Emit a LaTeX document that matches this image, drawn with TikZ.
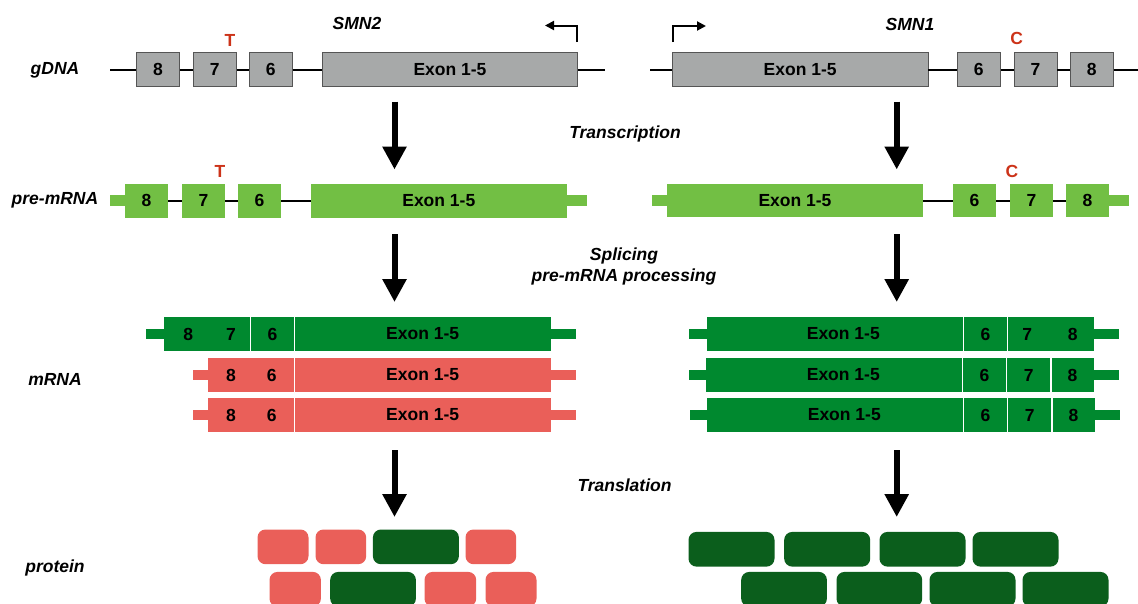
\documentclass[tikz,border=0pt]{standalone}
\usepackage{fontspec}
\setmainfont{Liberation Sans}
\usetikzlibrary{arrows.meta}
\definecolor{gfill}{HTML}{A7A9A9}
\definecolor{gbord}{HTML}{555555}
\definecolor{lgreen}{HTML}{72BF44}
\definecolor{dkg}{HTML}{00892F}
\definecolor{rna}{HTML}{EA5F59}
\definecolor{protg}{HTML}{0B5E1C}
\definecolor{snpred}{HTML}{CC3319}
\begin{document}
\begin{tikzpicture}[x=1pt,y=-1pt,
  font=\fontsize{17.5}{21}\selectfont\bfseries,
  gbox/.style={draw=gbord, line width=0.8pt, fill=gfill, minimum height=34pt, inner sep=0pt},
  pbox/.style={fill=lgreen, minimum height=33.7pt, inner sep=0pt},
  seg/.style={fill=#1, minimum height=34pt, inner sep=0pt, anchor=west},
  intron/.style={line width=2pt, black},
  ptail/.style={line width=11pt, lgreen},
  mtail/.style={line width=10.7pt, #1},
  divider/.style={white, line width=1.3pt},
  bigarrow/.style={line width=6pt, -{Triangle[length=23pt,width=23pt]}},
  prom/.style={line width=2pt, -{Triangle[length=9pt,width=9pt]}},
  stage/.style={font=\fontsize{17.5}{21}\selectfont\bfseries\itshape},
  snp/.style={text=snpred, inner sep=0pt},
  txt/.style={inner sep=0pt},
  prot/.style={fill=#1, rounded corners=8pt, minimum height=34.7pt, inner sep=0pt, anchor=north west}]
\useasboundingbox (0,0) rectangle (1138,603);
\clip (0,0) rectangle (1138,603);

% ---------- stage labels ----------
\node[stage] (lgdna) at (55,70) {gDNA};
\node[stage] (lpre) at (55,200) {pre-mRNA};
\node[stage] (lmrna) at (55,379) {mRNA};
\node[stage] (lprot) at (55,568) {protein};
\node[stage] (lsmn2) at (357,23) {SMN2};
\node[stage] (lsmn1) at (910,24) {SMN1};
\node[stage] (ltrans) at (625,134) {Transcription};
\node[stage, align=center] (lspl) at (624,266.5) {Splicing\\pre-mRNA processing};
\node[stage] (ltransl) at (624.5,485) {Translation};

% ---------- gDNA SMN2 ----------
\coordinate (gLs) at (110,69.5);
\coordinate (gLe) at (605,69.5);
\node[gbox, minimum width=43pt] (L8) at (158,69.5) {8};
\node[gbox, minimum width=43pt] (L7) at (214.7,69.5) {7};
\node[gbox, minimum width=43pt] (L6) at (270.8,69.5) {6};
\node[gbox, minimum width=255.4pt] (LE) at (450,69.5) {Exon 1-5};
\draw[intron] (gLs) -- (L8.west) (L8.east) -- (L7.west) (L7.east) -- (L6.west) (L6.east) -- (LE.west) (LE.east) -- (gLe);
\node[snp] (tg) at (230,40) {T};
\coordinate (pl1) at (577,42);
\coordinate (pl2) at (545,25.5);
\draw[prom] (pl1) |- (pl2);

% ---------- gDNA SMN1 ----------
\coordinate (gRs) at (650,69.5);
\coordinate (gRe) at (1140,69.5);
\node[gbox, minimum width=255.7pt] (RE) at (800.2,69.5) {Exon 1-5};
\node[gbox, minimum width=43pt] (R6) at (978.8,69.5) {6};
\node[gbox, minimum width=43pt] (R7) at (1035.5,69.5) {7};
\node[gbox, minimum width=43pt] (R8) at (1091.8,69.5) {8};
\draw[intron] (gRs) -- (RE.west) (RE.east) -- (R6.west) (R6.east) -- (R7.west) (R7.east) -- (R8.west) (R8.east) -- (gRe);
\node[snp] (cg) at (1016.7,38.5) {C};
\coordinate (pr1) at (673.3,42);
\coordinate (pr2) at (706,26);
\draw[prom] (pr1) |- (pr2);

% ---------- arrows ----------
\coordinate (a1s) at (394.5,101.5); \coordinate (a1e) at (394.5,169.5);
\coordinate (a2s) at (896.7,101.5); \coordinate (a2e) at (896.7,169.5);
\coordinate (a3s) at (394.5,234); \coordinate (a3e) at (394.5,302);
\coordinate (a4s) at (896.7,234); \coordinate (a4e) at (896.7,302);
\coordinate (a5s) at (394.5,450); \coordinate (a5e) at (394.5,517);
\coordinate (a6s) at (896.7,450); \coordinate (a6e) at (896.7,517);
\foreach \a/\b in {a1s/a1e,a2s/a2e,a3s/a3e,a4s/a4e,a5s/a5e,a6s/a6e}
  \draw[bigarrow] (\a) -- (\b);

% ---------- pre-mRNA SMN2 ----------
\node[pbox, minimum width=43pt] (P8) at (146.5,200.8) {8};
\node[pbox, minimum width=43pt] (P7) at (203.5,200.8) {7};
\node[pbox, minimum width=43pt] (P6) at (259.5,200.8) {6};
\node[pbox, minimum width=255.7pt] (PE) at (438.8,200.8) {Exon 1-5};
\draw[intron] (P8.east) -- (P7.west) (P7.east) -- (P6.west) (P6.east) -- (PE.west);
\draw[ptail] (P8.west) -- ++(-15,0);
\draw[ptail] (PE.east) -- ++(20,0);
\node[snp] (tp) at (220,171) {T};

% ---------- pre-mRNA SMN1 ----------
\node[pbox, minimum width=256pt] (QE) at (795,200.5) {Exon 1-5};
\node[pbox, minimum width=43pt] (Q6) at (974.5,200.5) {6};
\node[pbox, minimum width=43pt] (Q7) at (1031.5,200.5) {7};
\node[pbox, minimum width=43pt] (Q8) at (1087.5,200.5) {8};
\draw[intron] (QE.east) -- (Q6.west) (Q6.east) -- (Q7.west) (Q7.east) -- (Q8.west);
\draw[ptail] (QE.west) -- ++(-15,0);
\draw[ptail] (Q8.east) -- ++(20,0);
\node[snp] (cp) at (1012,171) {C};

% ---------- mRNA SMN2 ----------
\node[seg=dkg, minimum width=86.3pt] (m1a) at (164,334) {};
\node[seg=dkg, minimum width=44pt] (m1b) at (250.3,334) {6};
\node[seg=dkg, minimum width=256.4pt] (m1c) at (294.3,334) {Exon 1-5};
\draw[mtail=dkg] (m1a.west) -- ++(-18,0);
\draw[mtail=dkg] (m1c.east) -- ++(25.3,0);
\draw[divider] (m1a.north east) -- (m1a.south east);
\draw[divider] (m1b.north east) -- (m1b.south east);
\node[txt] (m1t8) at (188.3,334) {8};
\node[txt] (m1t7) at (231,334) {7};

\foreach \r/\yy in {m2/375, m3/415}{
  \node[seg=rna, minimum width=86.3pt] (\r a) at (208,\yy) {};
  \node[seg=rna, minimum width=256.4pt] (\r b) at (294.3,\yy) {Exon 1-5};
  \draw[mtail=rna] (\r a.west) -- ++(-15,0);
  \draw[mtail=rna] (\r b.east) -- ++(25.3,0);
  \draw[divider] (\r a.north east) -- (\r a.south east);
  \node[txt] (\r t8) at (231,\yy) {8};
  \node[txt] (\r t6) at (271.7,\yy) {6};
}

% ---------- mRNA SMN1 ----------
\node[seg=dkg, minimum width=256.3pt] (r1a) at (707,334) {};
\node[seg=dkg, minimum width=44pt] (r1b) at (963.3,334) {6};
\node[seg=dkg, minimum width=86.4pt] (r1c) at (1007.3,334) {};
\draw[mtail=dkg] (r1a.west) -- ++(-18,0);
\draw[mtail=dkg] (r1c.east) -- ++(25.3,0);
\draw[divider] (r1a.north east) -- (r1a.south east);
\draw[divider] (r1b.north east) -- (r1b.south east);
\node[txt] (r1te) at (843.3,334) {Exon 1-5};
\node[txt] (r1t7) at (1027.3,334) {7};
\node[txt] (r1t8) at (1072.7,334) {8};

\foreach \r/\yy/\xo in {r2/375/0, r3/415/1}{
  \node[seg=dkg, minimum width=256.3pt] (\r a) at (706+\xo,\yy) {};
  \node[seg=dkg, minimum width=44pt] (\r b) at (962.3+\xo,\yy) {6};
  \node[seg=dkg, minimum width=44.4pt] (\r c) at (1006.3+\xo,\yy) {7};
  \node[seg=dkg, minimum width=43.2pt] (\r d) at (1050.7+\xo,\yy) {8};
  \draw[mtail=dkg] (\r a.west) -- ++(-17,0);
  \draw[mtail=dkg] (\r d.east) -- ++(25,0);
  \draw[divider] (\r a.north east) -- (\r a.south east);
  \draw[divider] (\r b.north east) -- (\r b.south east);
  \draw[divider] (\r c.north east) -- (\r c.south east);
  \node[txt] (\r te) at (843.3+\xo,\yy) {Exon 1-5};
}

% ---------- proteins SMN2 ----------
\node[prot=rna, minimum width=51pt] (pa1) at (257.3,529.3) {};
\node[prot=rna, minimum width=50.7pt] (pa2) at (315.3,529.3) {};
\node[prot=protg, minimum width=86pt] (pa3) at (372.7,529.3) {};
\node[prot=rna, minimum width=50.7pt] (pa4) at (465.3,529.3) {};
\node[prot=rna, minimum width=51.4pt] (pb1) at (269.3,571.7) {};
\node[prot=protg, minimum width=85.7pt] (pb2) at (330,571.7) {};
\node[prot=rna, minimum width=51.7pt] (pb3) at (424.3,571.7) {};
\node[prot=rna, minimum width=51pt] (pb4) at (485.3,571.7) {};

% ---------- proteins SMN1 ----------
\node[prot=protg, minimum width=86pt] (qa1) at (688.3,531.7) {};
\node[prot=protg, minimum width=86pt] (qa2) at (784,531.7) {};
\node[prot=protg, minimum width=86pt] (qa3) at (879.3,531.7) {};
\node[prot=protg, minimum width=86pt] (qa4) at (972.3,531.7) {};
\node[prot=protg, minimum width=85.7pt] (qb1) at (741,571.7) {};
\node[prot=protg, minimum width=85.7pt] (qb2) at (836.3,571.7) {};
\node[prot=protg, minimum width=86pt] (qb3) at (929.3,571.7) {};
\node[prot=protg, minimum width=86pt] (qb4) at (1022.3,571.7) {};
\end{tikzpicture}
\end{document}
